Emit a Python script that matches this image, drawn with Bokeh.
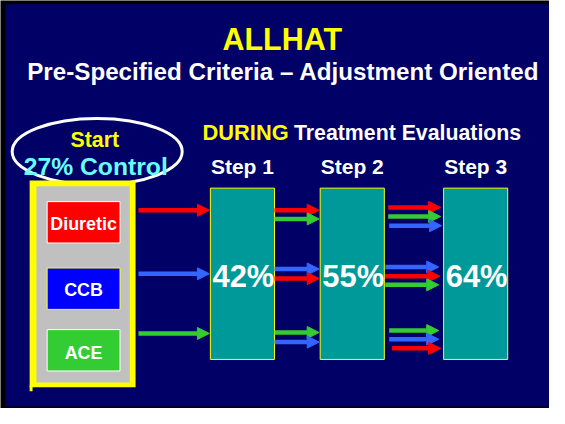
from bokeh.plotting import figure
from bokeh.models import Range1d, Arrow, NormalHead
from bokeh.core.properties import value
from bokeh.embed import file_html
from bokeh.resources import INLINE

# ---- data ----
title = "ALLHAT"
subtitle = "Pre-Specified Criteria \u2013 Adjustment Oriented"
start_label = "Start"
start_control = "27% Control"
during_word = "DURING"
during_rest = "Treatment Evaluations"
regimens = ["Diuretic", "CCB", "ACE"]
steps = ["Step 1", "Step 2", "Step 3"]
step_control = ["42%", "55%", "64%"]
# arrow colour order per row, between stages
arrows_into_step1 = [["Diuretic"], ["CCB"], ["ACE"]]
arrows_step1_to_2 = [["Diuretic", "ACE"], ["CCB", "Diuretic"], ["ACE", "CCB"]]
arrows_step2_to_3 = [["Diuretic", "ACE", "CCB"], ["CCB", "Diuretic", "ACE"], ["ACE", "CCB", "Diuretic"]]

# ---- styles / layout ----
NAVY = "#000066"
TEAL = "#009999"
FONT = value("Liberation Sans")
reg_fill = {"Diuretic": "#FF0000", "CCB": "#0000FF", "ACE": "#33CC33"}
reg_edge = {"Diuretic": "white", "CCB": "#FFFF00", "ACE": "white"}
arrow_col = {"Diuretic": "#FF0000", "CCB": "#3366FF", "ACE": "#33CC33"}

W, H = 565, 424
p = figure(width=549, height=408, x_range=Range1d(0, W), y_range=Range1d(H, 0),
           output_backend="svg", toolbar_location=None, min_border=0)
p.axis.visible = False
p.grid.visible = False
p.outline_line_color = None
p.background_fill_color = "black"
p.border_fill_color = "black"

# background panel
p.quad(left=5, right=W, top=4, bottom=422, fill_color=NAVY, line_color=None)

fs = 0.967
K = 0.33
def txt(x, y, s, size, color, align="center"):
    p.text(x=[x], y=[y - K * size], text=[s], text_font=FONT, text_font_style="bold",
           text_font_size=f"{size*fs:.1f}px", text_color=color,
           text_align=align, text_baseline="alphabetic")

txt(290, 50, title, 31.5, "#FFFF00")
txt(291, 82, subtitle, 25, "white")

# start ellipse
p.ellipse(x=[99.5], y=[157], width=[175], height=[69], fill_color=None,
          line_color="white", line_width=3)
txt(97, 152, start_label, 22, "#FFFF00")
txt(98, 181, start_control, 25.5, "#66FFFF")

# regimen frame
p.quad(left=30, right=139, top=187, bottom=402, fill_color="#FFFF00", line_color=None)
p.quad(left=30, right=33, top=400, bottom=406, fill_color="#FFFF00", line_color=None)
p.quad(left=37, right=133, top=193, bottom=397, fill_color="#C0C0C0", line_color=None)
reg_top = [209, 278, 342]
reg_base = [238, 307, 372]
for i, r in enumerate(regimens):
    p.quad(left=48, right=123, top=reg_top[i], bottom=reg_top[i] + 43,
           fill_color=reg_fill[r], line_color=reg_edge[r], line_width=1)
    txt(85.5, reg_base[i], r, 18.5, "white")

# header
txt(208, 145, during_word, 22.5, "#FFFF00", "left")
txt(302, 145, during_rest, 22, "white", "left")

box_left = [216, 329, 456]
box_w = 66
for i, s in enumerate(steps):
    cx = box_left[i] + box_w / 2
    txt(cx, 180, s, 21.7, "white")
    p.quad(left=box_left[i], right=box_left[i] + box_w, top=195, bottom=373,
           fill_color=TEAL, line_color="#FFFF00", line_width=1)
    txt(cx + 1, 297, step_control[i], 32, "white")

def arrow(x0, x1, y, color):
    p.add_layout(Arrow(x_start=x0, y_start=y, x_end=x1, y_end=y,
                       line_color=color, line_width=4.5,
                       end=NormalHead(size=12, fill_color=color, line_color=color, line_width=1)))

row_y1 = [218, 284, 346]
for i, grp in enumerate(arrows_into_step1):
    arrow(142, 215, row_y1[i], arrow_col[grp[0]])

row_y2 = [[218, 227], [279, 289], [345, 355]]
for i, grp in enumerate(arrows_step1_to_2):
    for j, r in enumerate(grp):
        arrow(282, 328, row_y2[i][j], arrow_col[r])

row_y3 = [[215, 224.5, 234], [277, 286.5, 295.5], [343, 352, 361.5]]
x3s = [[399, 399, 400], [396, 396, 396], [400, 400, 403]]
x3e = [[453, 453, 454], [451, 452, 451], [451, 451, 453]]
for i, grp in enumerate(arrows_step2_to_3):
    for j, r in enumerate(grp):
        arrow(x3s[i][j], x3e[i][j], row_y3[i][j], arrow_col[r])

open("out.html", "w").write(file_html(p, INLINE))
